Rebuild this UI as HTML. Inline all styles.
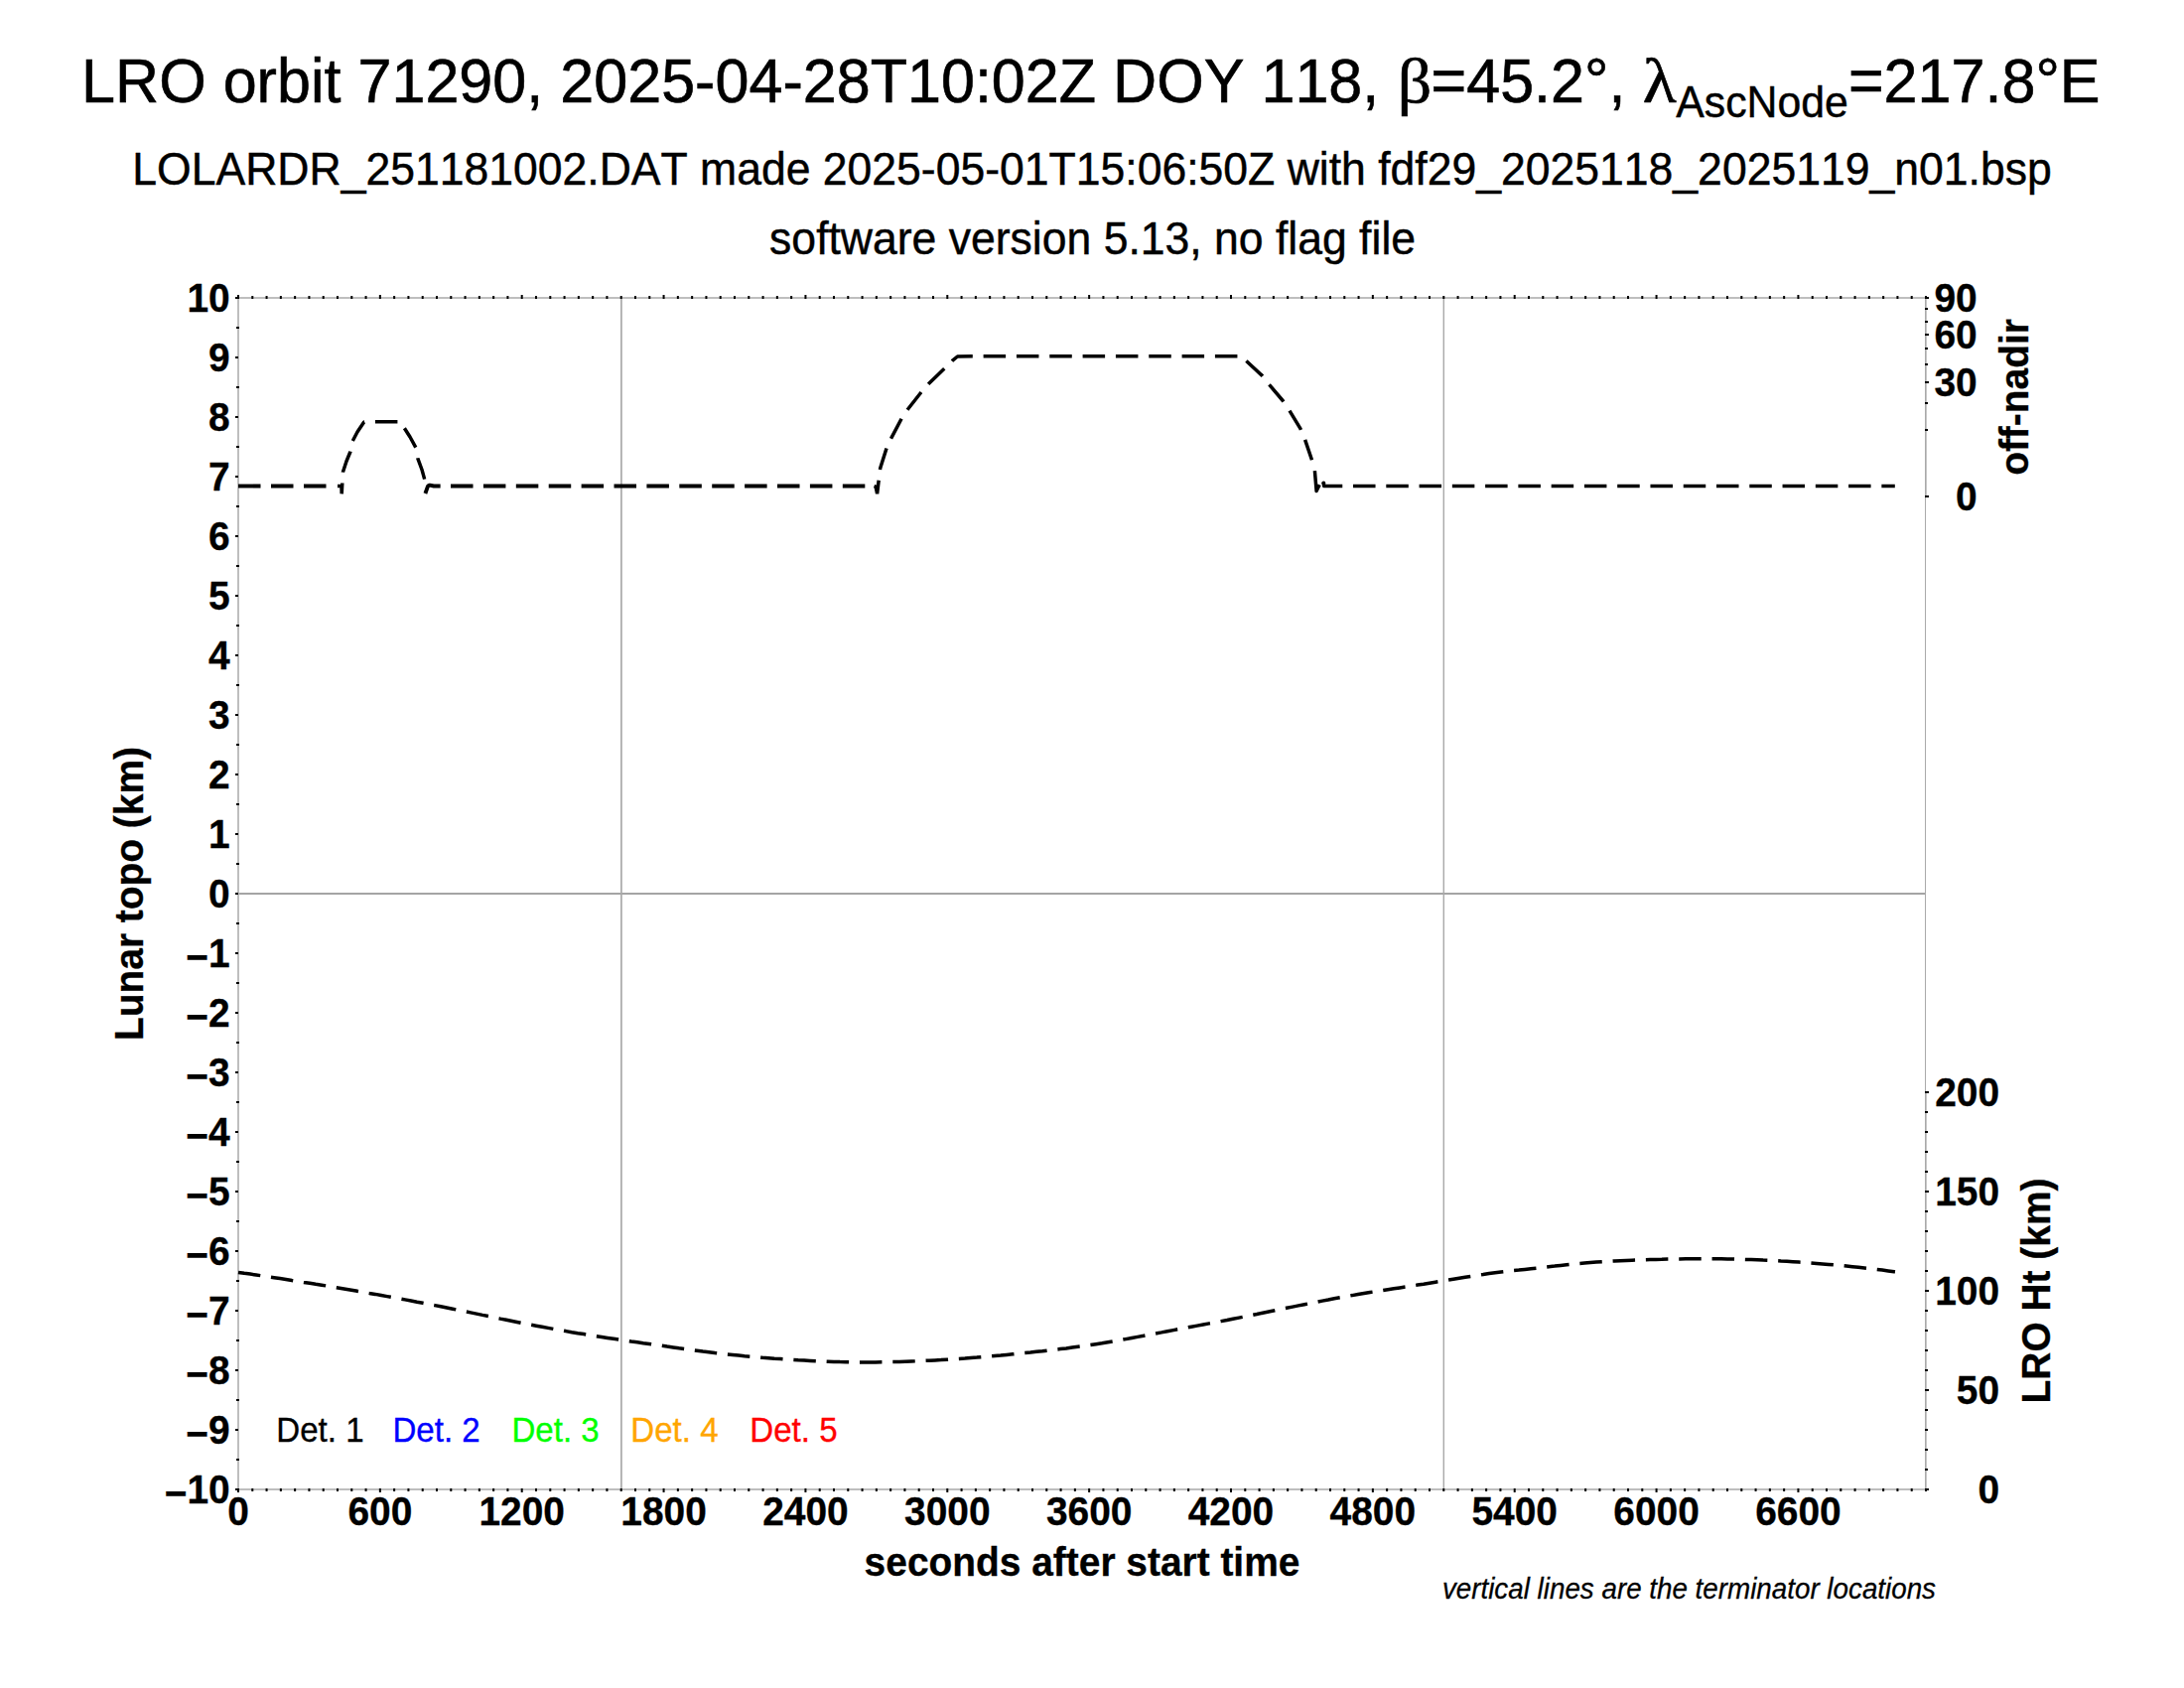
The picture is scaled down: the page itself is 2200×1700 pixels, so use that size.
<!DOCTYPE html>
<html lang="en">
<head>
<meta charset="utf-8">
<title>LRO orbit 71290</title>
<style>
html,body{margin:0;padding:0;background:#fff;}
body{width:2200px;height:1700px;overflow:hidden;}
svg{display:block;}
text{white-space:pre;font-kerning:none;font-variant-ligatures:none;}
</style>
</head>
<body>
<svg width="2200" height="1700" viewBox="0 0 2200 1700">
<rect width="2200" height="1700" fill="#fff"/>
<rect x="240" y="899" width="1700" height="2" fill="#a4a4a4" shape-rendering="crispEdges"/>
<line x1="625.9" y1="300" x2="625.9" y2="1500" stroke="#a9a9a9" stroke-width="1.7"/>
<line x1="1454.3" y1="300" x2="1454.3" y2="1500" stroke="#a9a9a9" stroke-width="1.4"/>
<g fill="#bebebe" shape-rendering="crispEdges">
<rect x="239" y="299" width="2" height="1202"/>
<rect x="239" y="299" width="1702" height="2"/>
<rect x="239" y="1499" width="1702" height="2"/>
<rect x="1939" y="299" width="2" height="202" fill="#c6c6c6"/>
<rect x="1939" y="1099" width="2" height="402" fill="#c6c6c6"/>
<rect x="1939" y="299" width="1" height="1202" fill="#aaaaaa"/>
</g>
<g fill="#000" shape-rendering="crispEdges">
<g shape-rendering="auto">
<rect x="239.00" y="297" width="2" height="4"/>
<rect x="239.00" y="1499" width="2" height="4"/>
<rect x="253.29" y="298" width="2" height="3"/>
<rect x="253.29" y="1499" width="2" height="3"/>
<rect x="267.57" y="298" width="2" height="3"/>
<rect x="267.57" y="1499" width="2" height="3"/>
<rect x="281.86" y="298" width="2" height="3"/>
<rect x="281.86" y="1499" width="2" height="3"/>
<rect x="296.14" y="298" width="2" height="3"/>
<rect x="296.14" y="1499" width="2" height="3"/>
<rect x="310.43" y="298" width="2" height="3"/>
<rect x="310.43" y="1499" width="2" height="3"/>
<rect x="324.71" y="298" width="2" height="3"/>
<rect x="324.71" y="1499" width="2" height="3"/>
<rect x="339.00" y="298" width="2" height="3"/>
<rect x="339.00" y="1499" width="2" height="3"/>
<rect x="353.29" y="298" width="2" height="3"/>
<rect x="353.29" y="1499" width="2" height="3"/>
<rect x="367.57" y="298" width="2" height="3"/>
<rect x="367.57" y="1499" width="2" height="3"/>
<rect x="381.86" y="297" width="2" height="4"/>
<rect x="381.86" y="1499" width="2" height="4"/>
<rect x="396.14" y="298" width="2" height="3"/>
<rect x="396.14" y="1499" width="2" height="3"/>
<rect x="410.43" y="298" width="2" height="3"/>
<rect x="410.43" y="1499" width="2" height="3"/>
<rect x="424.71" y="298" width="2" height="3"/>
<rect x="424.71" y="1499" width="2" height="3"/>
<rect x="439.00" y="298" width="2" height="3"/>
<rect x="439.00" y="1499" width="2" height="3"/>
<rect x="453.29" y="298" width="2" height="3"/>
<rect x="453.29" y="1499" width="2" height="3"/>
<rect x="467.57" y="298" width="2" height="3"/>
<rect x="467.57" y="1499" width="2" height="3"/>
<rect x="481.86" y="298" width="2" height="3"/>
<rect x="481.86" y="1499" width="2" height="3"/>
<rect x="496.14" y="298" width="2" height="3"/>
<rect x="496.14" y="1499" width="2" height="3"/>
<rect x="510.43" y="298" width="2" height="3"/>
<rect x="510.43" y="1499" width="2" height="3"/>
<rect x="524.71" y="297" width="2" height="4"/>
<rect x="524.71" y="1499" width="2" height="4"/>
<rect x="539.00" y="298" width="2" height="3"/>
<rect x="539.00" y="1499" width="2" height="3"/>
<rect x="553.29" y="298" width="2" height="3"/>
<rect x="553.29" y="1499" width="2" height="3"/>
<rect x="567.57" y="298" width="2" height="3"/>
<rect x="567.57" y="1499" width="2" height="3"/>
<rect x="581.86" y="298" width="2" height="3"/>
<rect x="581.86" y="1499" width="2" height="3"/>
<rect x="596.14" y="298" width="2" height="3"/>
<rect x="596.14" y="1499" width="2" height="3"/>
<rect x="610.43" y="298" width="2" height="3"/>
<rect x="610.43" y="1499" width="2" height="3"/>
<rect x="624.71" y="298" width="2" height="3"/>
<rect x="624.71" y="1499" width="2" height="3"/>
<rect x="639.00" y="298" width="2" height="3"/>
<rect x="639.00" y="1499" width="2" height="3"/>
<rect x="653.29" y="298" width="2" height="3"/>
<rect x="653.29" y="1499" width="2" height="3"/>
<rect x="667.57" y="297" width="2" height="4"/>
<rect x="667.57" y="1499" width="2" height="4"/>
<rect x="681.86" y="298" width="2" height="3"/>
<rect x="681.86" y="1499" width="2" height="3"/>
<rect x="696.14" y="298" width="2" height="3"/>
<rect x="696.14" y="1499" width="2" height="3"/>
<rect x="710.43" y="298" width="2" height="3"/>
<rect x="710.43" y="1499" width="2" height="3"/>
<rect x="724.71" y="298" width="2" height="3"/>
<rect x="724.71" y="1499" width="2" height="3"/>
<rect x="739.00" y="298" width="2" height="3"/>
<rect x="739.00" y="1499" width="2" height="3"/>
<rect x="753.29" y="298" width="2" height="3"/>
<rect x="753.29" y="1499" width="2" height="3"/>
<rect x="767.57" y="298" width="2" height="3"/>
<rect x="767.57" y="1499" width="2" height="3"/>
<rect x="781.86" y="298" width="2" height="3"/>
<rect x="781.86" y="1499" width="2" height="3"/>
<rect x="796.14" y="298" width="2" height="3"/>
<rect x="796.14" y="1499" width="2" height="3"/>
<rect x="810.43" y="297" width="2" height="4"/>
<rect x="810.43" y="1499" width="2" height="4"/>
<rect x="824.71" y="298" width="2" height="3"/>
<rect x="824.71" y="1499" width="2" height="3"/>
<rect x="839.00" y="298" width="2" height="3"/>
<rect x="839.00" y="1499" width="2" height="3"/>
<rect x="853.29" y="298" width="2" height="3"/>
<rect x="853.29" y="1499" width="2" height="3"/>
<rect x="867.57" y="298" width="2" height="3"/>
<rect x="867.57" y="1499" width="2" height="3"/>
<rect x="881.86" y="298" width="2" height="3"/>
<rect x="881.86" y="1499" width="2" height="3"/>
<rect x="896.14" y="298" width="2" height="3"/>
<rect x="896.14" y="1499" width="2" height="3"/>
<rect x="910.43" y="298" width="2" height="3"/>
<rect x="910.43" y="1499" width="2" height="3"/>
<rect x="924.71" y="298" width="2" height="3"/>
<rect x="924.71" y="1499" width="2" height="3"/>
<rect x="939.00" y="298" width="2" height="3"/>
<rect x="939.00" y="1499" width="2" height="3"/>
<rect x="953.29" y="297" width="2" height="4"/>
<rect x="953.29" y="1499" width="2" height="4"/>
<rect x="967.57" y="298" width="2" height="3"/>
<rect x="967.57" y="1499" width="2" height="3"/>
<rect x="981.86" y="298" width="2" height="3"/>
<rect x="981.86" y="1499" width="2" height="3"/>
<rect x="996.14" y="298" width="2" height="3"/>
<rect x="996.14" y="1499" width="2" height="3"/>
<rect x="1010.43" y="298" width="2" height="3"/>
<rect x="1010.43" y="1499" width="2" height="3"/>
<rect x="1024.71" y="298" width="2" height="3"/>
<rect x="1024.71" y="1499" width="2" height="3"/>
<rect x="1039.00" y="298" width="2" height="3"/>
<rect x="1039.00" y="1499" width="2" height="3"/>
<rect x="1053.29" y="298" width="2" height="3"/>
<rect x="1053.29" y="1499" width="2" height="3"/>
<rect x="1067.57" y="298" width="2" height="3"/>
<rect x="1067.57" y="1499" width="2" height="3"/>
<rect x="1081.86" y="298" width="2" height="3"/>
<rect x="1081.86" y="1499" width="2" height="3"/>
<rect x="1096.14" y="297" width="2" height="4"/>
<rect x="1096.14" y="1499" width="2" height="4"/>
<rect x="1110.43" y="298" width="2" height="3"/>
<rect x="1110.43" y="1499" width="2" height="3"/>
<rect x="1124.71" y="298" width="2" height="3"/>
<rect x="1124.71" y="1499" width="2" height="3"/>
<rect x="1139.00" y="298" width="2" height="3"/>
<rect x="1139.00" y="1499" width="2" height="3"/>
<rect x="1153.29" y="298" width="2" height="3"/>
<rect x="1153.29" y="1499" width="2" height="3"/>
<rect x="1167.57" y="298" width="2" height="3"/>
<rect x="1167.57" y="1499" width="2" height="3"/>
<rect x="1181.86" y="298" width="2" height="3"/>
<rect x="1181.86" y="1499" width="2" height="3"/>
<rect x="1196.14" y="298" width="2" height="3"/>
<rect x="1196.14" y="1499" width="2" height="3"/>
<rect x="1210.43" y="298" width="2" height="3"/>
<rect x="1210.43" y="1499" width="2" height="3"/>
<rect x="1224.71" y="298" width="2" height="3"/>
<rect x="1224.71" y="1499" width="2" height="3"/>
<rect x="1239.00" y="297" width="2" height="4"/>
<rect x="1239.00" y="1499" width="2" height="4"/>
<rect x="1253.29" y="298" width="2" height="3"/>
<rect x="1253.29" y="1499" width="2" height="3"/>
<rect x="1267.57" y="298" width="2" height="3"/>
<rect x="1267.57" y="1499" width="2" height="3"/>
<rect x="1281.86" y="298" width="2" height="3"/>
<rect x="1281.86" y="1499" width="2" height="3"/>
<rect x="1296.14" y="298" width="2" height="3"/>
<rect x="1296.14" y="1499" width="2" height="3"/>
<rect x="1310.43" y="298" width="2" height="3"/>
<rect x="1310.43" y="1499" width="2" height="3"/>
<rect x="1324.71" y="298" width="2" height="3"/>
<rect x="1324.71" y="1499" width="2" height="3"/>
<rect x="1339.00" y="298" width="2" height="3"/>
<rect x="1339.00" y="1499" width="2" height="3"/>
<rect x="1353.29" y="298" width="2" height="3"/>
<rect x="1353.29" y="1499" width="2" height="3"/>
<rect x="1367.57" y="298" width="2" height="3"/>
<rect x="1367.57" y="1499" width="2" height="3"/>
<rect x="1381.86" y="297" width="2" height="4"/>
<rect x="1381.86" y="1499" width="2" height="4"/>
<rect x="1396.14" y="298" width="2" height="3"/>
<rect x="1396.14" y="1499" width="2" height="3"/>
<rect x="1410.43" y="298" width="2" height="3"/>
<rect x="1410.43" y="1499" width="2" height="3"/>
<rect x="1424.71" y="298" width="2" height="3"/>
<rect x="1424.71" y="1499" width="2" height="3"/>
<rect x="1439.00" y="298" width="2" height="3"/>
<rect x="1439.00" y="1499" width="2" height="3"/>
<rect x="1453.29" y="298" width="2" height="3"/>
<rect x="1453.29" y="1499" width="2" height="3"/>
<rect x="1467.57" y="298" width="2" height="3"/>
<rect x="1467.57" y="1499" width="2" height="3"/>
<rect x="1481.86" y="298" width="2" height="3"/>
<rect x="1481.86" y="1499" width="2" height="3"/>
<rect x="1496.14" y="298" width="2" height="3"/>
<rect x="1496.14" y="1499" width="2" height="3"/>
<rect x="1510.43" y="298" width="2" height="3"/>
<rect x="1510.43" y="1499" width="2" height="3"/>
<rect x="1524.71" y="297" width="2" height="4"/>
<rect x="1524.71" y="1499" width="2" height="4"/>
<rect x="1539.00" y="298" width="2" height="3"/>
<rect x="1539.00" y="1499" width="2" height="3"/>
<rect x="1553.29" y="298" width="2" height="3"/>
<rect x="1553.29" y="1499" width="2" height="3"/>
<rect x="1567.57" y="298" width="2" height="3"/>
<rect x="1567.57" y="1499" width="2" height="3"/>
<rect x="1581.86" y="298" width="2" height="3"/>
<rect x="1581.86" y="1499" width="2" height="3"/>
<rect x="1596.14" y="298" width="2" height="3"/>
<rect x="1596.14" y="1499" width="2" height="3"/>
<rect x="1610.43" y="298" width="2" height="3"/>
<rect x="1610.43" y="1499" width="2" height="3"/>
<rect x="1624.71" y="298" width="2" height="3"/>
<rect x="1624.71" y="1499" width="2" height="3"/>
<rect x="1639.00" y="298" width="2" height="3"/>
<rect x="1639.00" y="1499" width="2" height="3"/>
<rect x="1653.29" y="298" width="2" height="3"/>
<rect x="1653.29" y="1499" width="2" height="3"/>
<rect x="1667.57" y="297" width="2" height="4"/>
<rect x="1667.57" y="1499" width="2" height="4"/>
<rect x="1681.86" y="298" width="2" height="3"/>
<rect x="1681.86" y="1499" width="2" height="3"/>
<rect x="1696.14" y="298" width="2" height="3"/>
<rect x="1696.14" y="1499" width="2" height="3"/>
<rect x="1710.43" y="298" width="2" height="3"/>
<rect x="1710.43" y="1499" width="2" height="3"/>
<rect x="1724.71" y="298" width="2" height="3"/>
<rect x="1724.71" y="1499" width="2" height="3"/>
<rect x="1739.00" y="298" width="2" height="3"/>
<rect x="1739.00" y="1499" width="2" height="3"/>
<rect x="1753.29" y="298" width="2" height="3"/>
<rect x="1753.29" y="1499" width="2" height="3"/>
<rect x="1767.57" y="298" width="2" height="3"/>
<rect x="1767.57" y="1499" width="2" height="3"/>
<rect x="1781.86" y="298" width="2" height="3"/>
<rect x="1781.86" y="1499" width="2" height="3"/>
<rect x="1796.14" y="298" width="2" height="3"/>
<rect x="1796.14" y="1499" width="2" height="3"/>
<rect x="1810.43" y="297" width="2" height="4"/>
<rect x="1810.43" y="1499" width="2" height="4"/>
<rect x="1824.71" y="298" width="2" height="3"/>
<rect x="1824.71" y="1499" width="2" height="3"/>
<rect x="1839.00" y="298" width="2" height="3"/>
<rect x="1839.00" y="1499" width="2" height="3"/>
<rect x="1853.29" y="298" width="2" height="3"/>
<rect x="1853.29" y="1499" width="2" height="3"/>
<rect x="1867.57" y="298" width="2" height="3"/>
<rect x="1867.57" y="1499" width="2" height="3"/>
<rect x="1881.86" y="298" width="2" height="3"/>
<rect x="1881.86" y="1499" width="2" height="3"/>
<rect x="1896.14" y="298" width="2" height="3"/>
<rect x="1896.14" y="1499" width="2" height="3"/>
<rect x="1910.43" y="298" width="2" height="3"/>
<rect x="1910.43" y="1499" width="2" height="3"/>
<rect x="1924.71" y="298" width="2" height="3"/>
<rect x="1924.71" y="1499" width="2" height="3"/>
<rect x="1939.00" y="298" width="2" height="3"/>
<rect x="1939.00" y="1499" width="2" height="3"/>
</g>
<rect x="237" y="1499" width="3" height="2"/>
<rect x="238" y="1469" width="3" height="2"/>
<rect x="237" y="1439" width="3" height="2"/>
<rect x="238" y="1409" width="3" height="2"/>
<rect x="237" y="1379" width="3" height="2"/>
<rect x="238" y="1349" width="3" height="2"/>
<rect x="237" y="1319" width="3" height="2"/>
<rect x="238" y="1289" width="3" height="2"/>
<rect x="237" y="1259" width="3" height="2"/>
<rect x="238" y="1229" width="3" height="2"/>
<rect x="237" y="1199" width="3" height="2"/>
<rect x="238" y="1169" width="3" height="2"/>
<rect x="237" y="1139" width="3" height="2"/>
<rect x="238" y="1109" width="3" height="2"/>
<rect x="237" y="1079" width="3" height="2"/>
<rect x="238" y="1049" width="3" height="2"/>
<rect x="237" y="1019" width="3" height="2"/>
<rect x="238" y="989" width="3" height="2"/>
<rect x="237" y="959" width="3" height="2"/>
<rect x="238" y="929" width="3" height="2"/>
<rect x="237" y="899" width="3" height="2"/>
<rect x="238" y="869" width="3" height="2"/>
<rect x="237" y="839" width="3" height="2"/>
<rect x="238" y="809" width="3" height="2"/>
<rect x="237" y="779" width="3" height="2"/>
<rect x="238" y="749" width="3" height="2"/>
<rect x="237" y="719" width="3" height="2"/>
<rect x="238" y="689" width="3" height="2"/>
<rect x="237" y="659" width="3" height="2"/>
<rect x="238" y="629" width="3" height="2"/>
<rect x="237" y="599" width="3" height="2"/>
<rect x="238" y="569" width="3" height="2"/>
<rect x="237" y="539" width="3" height="2"/>
<rect x="238" y="509" width="3" height="2"/>
<rect x="237" y="479" width="3" height="2"/>
<rect x="238" y="449" width="3" height="2"/>
<rect x="237" y="419" width="3" height="2"/>
<rect x="238" y="389" width="3" height="2"/>
<rect x="237" y="359" width="3" height="2"/>
<rect x="238" y="329" width="3" height="2"/>
<rect x="237" y="299" width="3" height="2"/>
<rect x="1939" y="499" width="4" height="2"/>
<rect x="1939" y="432" width="3" height="2"/>
<rect x="1939" y="405" width="3" height="2"/>
<rect x="1939" y="384" width="4" height="2"/>
<rect x="1939" y="366" width="3" height="2"/>
<rect x="1939" y="350" width="3" height="2"/>
<rect x="1939" y="336" width="4" height="2"/>
<rect x="1939" y="323" width="3" height="2"/>
<rect x="1939" y="310" width="3" height="2"/>
<rect x="1939" y="299" width="4" height="2"/>
<rect x="1939" y="1499" width="4" height="2"/>
<rect x="1939" y="1479" width="3" height="2"/>
<rect x="1939" y="1459" width="3" height="2"/>
<rect x="1939" y="1439" width="3" height="2"/>
<rect x="1939" y="1419" width="3" height="2"/>
<rect x="1939" y="1399" width="4" height="2"/>
<rect x="1939" y="1379" width="3" height="2"/>
<rect x="1939" y="1359" width="3" height="2"/>
<rect x="1939" y="1339" width="3" height="2"/>
<rect x="1939" y="1319" width="3" height="2"/>
<rect x="1939" y="1299" width="4" height="2"/>
<rect x="1939" y="1279" width="3" height="2"/>
<rect x="1939" y="1259" width="3" height="2"/>
<rect x="1939" y="1239" width="3" height="2"/>
<rect x="1939" y="1219" width="3" height="2"/>
<rect x="1939" y="1199" width="4" height="2"/>
<rect x="1939" y="1179" width="3" height="2"/>
<rect x="1939" y="1159" width="3" height="2"/>
<rect x="1939" y="1139" width="3" height="2"/>
<rect x="1939" y="1119" width="3" height="2"/>
<rect x="1939" y="1099" width="4" height="2"/>
</g>
<g fill="none" stroke="#000" stroke-width="3.5" stroke-linejoin="bevel">
<path d="M240,489.5 L336,489.5" stroke-dasharray="22.5 10.5" stroke-width="3.9"/>
<path d="M340.0,489.5 L344.0,489.6 L344.2,497.3 L345.4,475.5 L349.0,464.5 L352.9,455.0 L355.3,444.0 L360.0,435.0 L366.7,425.1 L369.0,424.8 L404.0,424.8 L407.2,430.9 L413.0,440.0 L418.9,450.8 L420.9,461.8 L425.0,473.0 L427.8,483.1 L428.2,487.0" stroke-dasharray="22.5 10.83"/>
<path d="M428.4,497.0 L431.0,489.6 L433.0,488.6 L437.0,489.5 L872.9,489.5" stroke-dasharray="22.5 10.4" stroke-dashoffset="1.7" stroke-width="3.9"/>
<path d="M880.5,489.6 L882.2,490.2 L883.6,497.2 L885.3,482.7 L886.7,471.5 L893.2,450.9 L898.1,440.6 L908.3,421.3 L914.6,412.0 L928.3,394.6 L935.7,386.3 L951.3,371.2 L959.2,363.4 L964.5,359.0 L979.4,358.7 L1250.3,358.7 L1255.4,363.4 L1271.2,378.1 L1278.0,386.7 L1292.2,403.5 L1298.7,413.1 L1309.9,431.6 L1314.5,442.6 L1321.5,463.2" stroke-dasharray="22.5 10.83"/>
<path d="M1324.4,474.1 L1326.1,494.6 L1329.2,488.3" stroke-linejoin="round"/>
<path d="M1333.2,485.6 L1333.7,489.5 L1908.8,489.5" stroke-dasharray="22.5 10.77" stroke-linejoin="round" stroke-linecap="butt"/>
<circle cx="1333.3" cy="486.4" r="1.9" fill="#000" stroke="none"/>
<path d="M240.0,1281.4 L246.0,1282.3 L252.0,1283.1 L258.0,1284.0 L264.0,1284.9 L270.0,1285.8 L276.0,1286.7 L282.0,1287.6 L288.0,1288.5 L294.0,1289.5 L300.0,1290.4 L306.0,1291.4 L312.0,1292.3 L318.0,1293.3 L324.0,1294.2 L330.0,1295.2 L336.0,1296.2 L342.0,1297.2 L348.0,1298.2 L354.0,1299.2 L360.0,1300.3 L366.0,1301.3 L372.0,1302.4 L378.0,1303.4 L384.0,1304.5 L390.0,1305.6 L396.0,1306.7 L402.0,1307.8 L408.0,1308.9 L414.0,1310.0 L420.0,1311.2 L426.0,1312.3 L432.0,1313.5 L438.0,1314.6 L444.0,1315.8 L450.0,1317.0 L456.0,1318.2 L462.0,1319.4 L468.0,1320.7 L474.0,1321.9 L480.0,1323.1 L486.0,1324.4 L492.0,1325.6 L498.0,1326.8 L504.0,1328.1 L510.0,1329.3 L516.0,1330.5 L522.0,1331.7 L528.0,1332.9 L534.0,1334.1 L540.0,1335.2 L546.0,1336.3 L552.0,1337.4 L558.0,1338.5 L564.0,1339.6 L570.0,1340.6 L576.0,1341.7 L582.0,1342.7 L588.0,1343.6 L594.0,1344.6 L600.0,1345.6 L606.0,1346.5 L612.0,1347.4 L618.0,1348.3 L624.0,1349.2 L630.0,1350.1 L636.0,1351.0 L642.0,1351.8 L648.0,1352.7 L654.0,1353.5 L660.0,1354.4 L666.0,1355.2 L672.0,1356.1 L678.0,1356.9 L684.0,1357.8 L690.0,1358.6 L696.0,1359.5 L702.0,1360.3 L708.0,1361.1 L714.0,1361.8 L720.0,1362.6 L726.0,1363.2 L732.0,1363.9 L738.0,1364.5 L744.0,1365.1 L750.0,1365.7 L756.0,1366.2 L762.0,1366.8 L768.0,1367.3 L774.0,1367.7 L780.0,1368.2 L786.0,1368.6 L792.0,1369.0 L798.0,1369.4 L804.0,1369.8 L810.0,1370.1 L816.0,1370.4 L822.0,1370.7 L828.0,1371.0 L834.0,1371.2 L840.0,1371.4 L846.0,1371.6 L852.0,1371.7 L858.0,1371.8 L864.0,1371.9 L870.0,1371.9 L876.0,1371.9 L882.0,1371.9 L888.0,1371.8 L894.0,1371.7 L900.0,1371.6 L906.0,1371.4 L912.0,1371.2 L918.0,1371.0 L924.0,1370.8 L930.0,1370.5 L936.0,1370.2 L942.0,1369.9 L948.0,1369.6 L954.0,1369.2 L960.0,1368.8 L966.0,1368.4 L972.0,1368.0 L978.0,1367.5 L984.0,1367.1 L990.0,1366.6 L996.0,1366.1 L1002.0,1365.5 L1008.0,1365.0 L1014.0,1364.4 L1020.0,1363.8 L1026.0,1363.2 L1032.0,1362.6 L1038.0,1362.0 L1044.0,1361.3 L1050.0,1360.7 L1056.0,1360.0 L1062.0,1359.3 L1068.0,1358.6 L1074.0,1357.9 L1080.0,1357.1 L1086.0,1356.3 L1092.0,1355.5 L1098.0,1354.6 L1104.0,1353.7 L1110.0,1352.8 L1116.0,1351.8 L1122.0,1350.8 L1128.0,1349.7 L1134.0,1348.6 L1140.0,1347.5 L1146.0,1346.4 L1152.0,1345.3 L1158.0,1344.1 L1164.0,1343.0 L1170.0,1341.9 L1176.0,1340.7 L1182.0,1339.6 L1188.0,1338.5 L1194.0,1337.4 L1200.0,1336.2 L1206.0,1335.1 L1212.0,1334.0 L1218.0,1332.9 L1224.0,1331.8 L1230.0,1330.6 L1236.0,1329.5 L1242.0,1328.3 L1248.0,1327.1 L1254.0,1325.9 L1260.0,1324.7 L1266.0,1323.5 L1272.0,1322.2 L1278.0,1321.0 L1284.0,1319.8 L1290.0,1318.5 L1296.0,1317.3 L1302.0,1316.1 L1308.0,1314.9 L1314.0,1313.7 L1320.0,1312.5 L1326.0,1311.3 L1332.0,1310.1 L1338.0,1309.0 L1344.0,1307.8 L1350.0,1306.7 L1356.0,1305.6 L1362.0,1304.6 L1368.0,1303.5 L1374.0,1302.5 L1380.0,1301.5 L1386.0,1300.6 L1392.0,1299.6 L1398.0,1298.7 L1404.0,1297.8 L1410.0,1296.9 L1416.0,1296.0 L1422.0,1295.0 L1428.0,1294.1 L1434.0,1293.2 L1440.0,1292.2 L1446.0,1291.2 L1452.0,1290.2 L1458.0,1289.2 L1464.0,1288.2 L1470.0,1287.2 L1476.0,1286.2 L1482.0,1285.3 L1488.0,1284.3 L1494.0,1283.5 L1500.0,1282.6 L1506.0,1281.8 L1512.0,1281.1 L1518.0,1280.4 L1524.0,1279.7 L1530.0,1279.1 L1536.0,1278.4 L1542.0,1277.7 L1548.0,1277.1 L1554.0,1276.4 L1560.0,1275.7 L1566.0,1275.1 L1572.0,1274.4 L1578.0,1273.8 L1584.0,1273.2 L1590.0,1272.6 L1596.0,1272.1 L1602.0,1271.6 L1608.0,1271.1 L1614.0,1270.7 L1620.0,1270.3 L1626.0,1270.0 L1632.0,1269.7 L1638.0,1269.4 L1644.0,1269.2 L1650.0,1269.0 L1656.0,1268.8 L1662.0,1268.6 L1668.0,1268.4 L1674.0,1268.3 L1680.0,1268.1 L1686.0,1268.0 L1692.0,1267.9 L1698.0,1267.8 L1704.0,1267.8 L1710.0,1267.7 L1716.0,1267.7 L1722.0,1267.7 L1728.0,1267.7 L1734.0,1267.8 L1740.0,1267.9 L1746.0,1268.0 L1752.0,1268.2 L1758.0,1268.4 L1764.0,1268.6 L1770.0,1268.8 L1776.0,1269.1 L1782.0,1269.3 L1788.0,1269.6 L1794.0,1270.0 L1800.0,1270.3 L1806.0,1270.7 L1812.0,1271.1 L1818.0,1271.5 L1824.0,1271.9 L1830.0,1272.4 L1836.0,1272.9 L1842.0,1273.4 L1848.0,1273.9 L1854.0,1274.5 L1860.0,1275.1 L1866.0,1275.7 L1872.0,1276.3 L1878.0,1277.0 L1884.0,1277.7 L1890.0,1278.4 L1896.0,1279.1 L1902.0,1279.9 L1908.0,1280.7 L1909.0,1280.8" stroke-dasharray="22.5 10.83"/>
</g>
<text transform="translate(82.10,103.30) scale(1.0,1.035)" font-family="'Liberation Sans', sans-serif" font-size="61.1" text-anchor="start" fill="#000" stroke="#000" stroke-width="0.6">LRO orbit 71290, 2025-04-28T10:02Z DOY 118, </text>
<text transform="translate(1407.70,103.30) scale(1.11,1.05)" font-family="'Liberation Serif', 'DejaVu Serif', serif" font-size="61.1" text-anchor="start" fill="#000" stroke="#000" stroke-width="0.6">β</text>
<text transform="translate(1441.50,103.30) scale(1.0,1.035)" font-family="'Liberation Sans', sans-serif" font-size="61.1" text-anchor="start" fill="#000" stroke="#000" stroke-width="0.6">=45.2°, </text>
<text transform="translate(1654.75,103.30) scale(1.146,1.04)" font-family="'Liberation Serif', 'DejaVu Serif', serif" font-size="61.1" text-anchor="start" fill="#000" stroke="#000" stroke-width="0.6">λ</text>
<text transform="translate(1688.30,118.30) scale(1.0,1.035)" font-family="'Liberation Sans', sans-serif" font-size="42.77" text-anchor="start" fill="#000" stroke="#000" stroke-width="0.42">AscNode</text>
<text transform="translate(1861.90,103.30) scale(1.0,1.035)" font-family="'Liberation Sans', sans-serif" font-size="61.1" text-anchor="start" fill="#000" stroke="#000" stroke-width="0.6">=217.8°E</text>
<text transform="translate(133.30,186.00) scale(1.0,1.035)" font-family="'Liberation Sans', sans-serif" font-size="44.54" text-anchor="start" fill="#000" stroke="#000" stroke-width="0.44">LOLARDR_251181002.DAT made 2025-05-01T15:06:50Z with fdf29_2025118_2025119_n01.bsp</text>
<text transform="translate(775.10,256.40) scale(1.0,1.035)" font-family="'Liberation Sans', sans-serif" font-size="44.54" text-anchor="start" fill="#000" stroke="#000" stroke-width="0.44">software version 5.13, no flag file</text>
<text transform="translate(231.70,1514.40) scale(1.0,1.05)" font-family="'Liberation Sans', sans-serif" font-size="38.9" text-anchor="end" fill="#000" font-weight="bold" stroke="#000" stroke-width="0.3"><tspan dy="3.6">−</tspan><tspan dy="-3.6">10</tspan></text>
<text transform="translate(231.70,1454.40) scale(1.0,1.05)" font-family="'Liberation Sans', sans-serif" font-size="38.9" text-anchor="end" fill="#000" font-weight="bold" stroke="#000" stroke-width="0.3"><tspan dy="3.6">−</tspan><tspan dy="-3.6">9</tspan></text>
<text transform="translate(231.70,1394.40) scale(1.0,1.05)" font-family="'Liberation Sans', sans-serif" font-size="38.9" text-anchor="end" fill="#000" font-weight="bold" stroke="#000" stroke-width="0.3"><tspan dy="3.6">−</tspan><tspan dy="-3.6">8</tspan></text>
<text transform="translate(231.70,1334.40) scale(1.0,1.05)" font-family="'Liberation Sans', sans-serif" font-size="38.9" text-anchor="end" fill="#000" font-weight="bold" stroke="#000" stroke-width="0.3"><tspan dy="3.6">−</tspan><tspan dy="-3.6">7</tspan></text>
<text transform="translate(231.70,1274.40) scale(1.0,1.05)" font-family="'Liberation Sans', sans-serif" font-size="38.9" text-anchor="end" fill="#000" font-weight="bold" stroke="#000" stroke-width="0.3"><tspan dy="3.6">−</tspan><tspan dy="-3.6">6</tspan></text>
<text transform="translate(231.70,1214.40) scale(1.0,1.05)" font-family="'Liberation Sans', sans-serif" font-size="38.9" text-anchor="end" fill="#000" font-weight="bold" stroke="#000" stroke-width="0.3"><tspan dy="3.6">−</tspan><tspan dy="-3.6">5</tspan></text>
<text transform="translate(231.70,1154.40) scale(1.0,1.05)" font-family="'Liberation Sans', sans-serif" font-size="38.9" text-anchor="end" fill="#000" font-weight="bold" stroke="#000" stroke-width="0.3"><tspan dy="3.6">−</tspan><tspan dy="-3.6">4</tspan></text>
<text transform="translate(231.70,1094.40) scale(1.0,1.05)" font-family="'Liberation Sans', sans-serif" font-size="38.9" text-anchor="end" fill="#000" font-weight="bold" stroke="#000" stroke-width="0.3"><tspan dy="3.6">−</tspan><tspan dy="-3.6">3</tspan></text>
<text transform="translate(231.70,1034.40) scale(1.0,1.05)" font-family="'Liberation Sans', sans-serif" font-size="38.9" text-anchor="end" fill="#000" font-weight="bold" stroke="#000" stroke-width="0.3"><tspan dy="3.6">−</tspan><tspan dy="-3.6">2</tspan></text>
<text transform="translate(231.70,974.40) scale(1.0,1.05)" font-family="'Liberation Sans', sans-serif" font-size="38.9" text-anchor="end" fill="#000" font-weight="bold" stroke="#000" stroke-width="0.3"><tspan dy="3.6">−</tspan><tspan dy="-3.6">1</tspan></text>
<text transform="translate(231.70,914.40) scale(1.0,1.05)" font-family="'Liberation Sans', sans-serif" font-size="38.9" text-anchor="end" fill="#000" font-weight="bold" stroke="#000" stroke-width="0.3">0</text>
<text transform="translate(231.70,854.40) scale(1.0,1.05)" font-family="'Liberation Sans', sans-serif" font-size="38.9" text-anchor="end" fill="#000" font-weight="bold" stroke="#000" stroke-width="0.3">1</text>
<text transform="translate(231.70,794.40) scale(1.0,1.05)" font-family="'Liberation Sans', sans-serif" font-size="38.9" text-anchor="end" fill="#000" font-weight="bold" stroke="#000" stroke-width="0.3">2</text>
<text transform="translate(231.70,734.40) scale(1.0,1.05)" font-family="'Liberation Sans', sans-serif" font-size="38.9" text-anchor="end" fill="#000" font-weight="bold" stroke="#000" stroke-width="0.3">3</text>
<text transform="translate(231.70,674.40) scale(1.0,1.05)" font-family="'Liberation Sans', sans-serif" font-size="38.9" text-anchor="end" fill="#000" font-weight="bold" stroke="#000" stroke-width="0.3">4</text>
<text transform="translate(231.70,614.40) scale(1.0,1.05)" font-family="'Liberation Sans', sans-serif" font-size="38.9" text-anchor="end" fill="#000" font-weight="bold" stroke="#000" stroke-width="0.3">5</text>
<text transform="translate(231.70,554.40) scale(1.0,1.05)" font-family="'Liberation Sans', sans-serif" font-size="38.9" text-anchor="end" fill="#000" font-weight="bold" stroke="#000" stroke-width="0.3">6</text>
<text transform="translate(231.70,494.40) scale(1.0,1.05)" font-family="'Liberation Sans', sans-serif" font-size="38.9" text-anchor="end" fill="#000" font-weight="bold" stroke="#000" stroke-width="0.3">7</text>
<text transform="translate(231.70,434.40) scale(1.0,1.05)" font-family="'Liberation Sans', sans-serif" font-size="38.9" text-anchor="end" fill="#000" font-weight="bold" stroke="#000" stroke-width="0.3">8</text>
<text transform="translate(231.70,374.40) scale(1.0,1.05)" font-family="'Liberation Sans', sans-serif" font-size="38.9" text-anchor="end" fill="#000" font-weight="bold" stroke="#000" stroke-width="0.3">9</text>
<text transform="translate(231.70,314.40) scale(1.0,1.05)" font-family="'Liberation Sans', sans-serif" font-size="38.9" text-anchor="end" fill="#000" font-weight="bold" stroke="#000" stroke-width="0.3">10</text>
<text transform="translate(240.00,1536.40) scale(1.0,1.05)" font-family="'Liberation Sans', sans-serif" font-size="38.9" text-anchor="middle" fill="#000" font-weight="bold" stroke="#000" stroke-width="0.3">0</text>
<text transform="translate(382.86,1536.40) scale(1.0,1.05)" font-family="'Liberation Sans', sans-serif" font-size="38.9" text-anchor="middle" fill="#000" font-weight="bold" stroke="#000" stroke-width="0.3">600</text>
<text transform="translate(525.71,1536.40) scale(1.0,1.05)" font-family="'Liberation Sans', sans-serif" font-size="38.9" text-anchor="middle" fill="#000" font-weight="bold" stroke="#000" stroke-width="0.3">1200</text>
<text transform="translate(668.57,1536.40) scale(1.0,1.05)" font-family="'Liberation Sans', sans-serif" font-size="38.9" text-anchor="middle" fill="#000" font-weight="bold" stroke="#000" stroke-width="0.3">1800</text>
<text transform="translate(811.43,1536.40) scale(1.0,1.05)" font-family="'Liberation Sans', sans-serif" font-size="38.9" text-anchor="middle" fill="#000" font-weight="bold" stroke="#000" stroke-width="0.3">2400</text>
<text transform="translate(954.29,1536.40) scale(1.0,1.05)" font-family="'Liberation Sans', sans-serif" font-size="38.9" text-anchor="middle" fill="#000" font-weight="bold" stroke="#000" stroke-width="0.3">3000</text>
<text transform="translate(1097.14,1536.40) scale(1.0,1.05)" font-family="'Liberation Sans', sans-serif" font-size="38.9" text-anchor="middle" fill="#000" font-weight="bold" stroke="#000" stroke-width="0.3">3600</text>
<text transform="translate(1240.00,1536.40) scale(1.0,1.05)" font-family="'Liberation Sans', sans-serif" font-size="38.9" text-anchor="middle" fill="#000" font-weight="bold" stroke="#000" stroke-width="0.3">4200</text>
<text transform="translate(1382.86,1536.40) scale(1.0,1.05)" font-family="'Liberation Sans', sans-serif" font-size="38.9" text-anchor="middle" fill="#000" font-weight="bold" stroke="#000" stroke-width="0.3">4800</text>
<text transform="translate(1525.71,1536.40) scale(1.0,1.05)" font-family="'Liberation Sans', sans-serif" font-size="38.9" text-anchor="middle" fill="#000" font-weight="bold" stroke="#000" stroke-width="0.3">5400</text>
<text transform="translate(1668.57,1536.40) scale(1.0,1.05)" font-family="'Liberation Sans', sans-serif" font-size="38.9" text-anchor="middle" fill="#000" font-weight="bold" stroke="#000" stroke-width="0.3">6000</text>
<text transform="translate(1811.43,1536.40) scale(1.0,1.05)" font-family="'Liberation Sans', sans-serif" font-size="38.9" text-anchor="middle" fill="#000" font-weight="bold" stroke="#000" stroke-width="0.3">6600</text>
<text transform="translate(1991.70,514.40) scale(1.0,1.05)" font-family="'Liberation Sans', sans-serif" font-size="38.9" text-anchor="end" fill="#000" font-weight="bold" stroke="#000" stroke-width="0.3">0</text>
<text transform="translate(1991.70,398.93) scale(1.0,1.05)" font-family="'Liberation Sans', sans-serif" font-size="38.9" text-anchor="end" fill="#000" font-weight="bold" stroke="#000" stroke-width="0.3">30</text>
<text transform="translate(1991.70,351.10) scale(1.0,1.05)" font-family="'Liberation Sans', sans-serif" font-size="38.9" text-anchor="end" fill="#000" font-weight="bold" stroke="#000" stroke-width="0.3">60</text>
<text transform="translate(1991.70,314.40) scale(1.0,1.05)" font-family="'Liberation Sans', sans-serif" font-size="38.9" text-anchor="end" fill="#000" font-weight="bold" stroke="#000" stroke-width="0.3">90</text>
<text transform="translate(2014.10,1514.40) scale(1.0,1.05)" font-family="'Liberation Sans', sans-serif" font-size="38.9" text-anchor="end" fill="#000" font-weight="bold" stroke="#000" stroke-width="0.3">0</text>
<text transform="translate(2014.10,1414.40) scale(1.0,1.05)" font-family="'Liberation Sans', sans-serif" font-size="38.9" text-anchor="end" fill="#000" font-weight="bold" stroke="#000" stroke-width="0.3">50</text>
<text transform="translate(2014.10,1314.40) scale(1.0,1.05)" font-family="'Liberation Sans', sans-serif" font-size="38.9" text-anchor="end" fill="#000" font-weight="bold" stroke="#000" stroke-width="0.3">100</text>
<text transform="translate(2014.10,1214.40) scale(1.0,1.05)" font-family="'Liberation Sans', sans-serif" font-size="38.9" text-anchor="end" fill="#000" font-weight="bold" stroke="#000" stroke-width="0.3">150</text>
<text transform="translate(2014.10,1114.40) scale(1.0,1.05)" font-family="'Liberation Sans', sans-serif" font-size="38.9" text-anchor="end" fill="#000" font-weight="bold" stroke="#000" stroke-width="0.3">200</text>
<text transform="translate(1090.00,1587.30) scale(1.0,1.035)" font-family="'Liberation Sans', sans-serif" font-size="38.9" text-anchor="middle" fill="#000" font-weight="bold" stroke="#000" stroke-width="0.3">seconds after start time</text>
<text transform="translate(144.30,900.00) rotate(-90) scale(1.0,1.035)" font-family="'Liberation Sans', sans-serif" font-size="38.9" text-anchor="middle" fill="#000" font-weight="bold" stroke="#000" stroke-width="0.3">Lunar topo (km)</text>
<text transform="translate(2042.50,400.00) rotate(-90) scale(1.0,1.035)" font-family="'Liberation Sans', sans-serif" font-size="38.9" text-anchor="middle" fill="#000" font-weight="bold" stroke="#000" stroke-width="0.3">off-nadir</text>
<text transform="translate(2065.10,1300.00) rotate(-90) scale(1.0,1.035)" font-family="'Liberation Sans', sans-serif" font-size="38.9" text-anchor="middle" fill="#000" font-weight="bold" stroke="#000" stroke-width="0.3">LRO Ht (km)</text>
<text transform="translate(278.27,1451.60) scale(1.0,1.035)" font-family="'Liberation Sans', sans-serif" font-size="33.1" text-anchor="start" fill="#000000" stroke="#000000" stroke-width="0.32">Det. 1</text>
<text transform="translate(395.47,1451.60) scale(1.0,1.035)" font-family="'Liberation Sans', sans-serif" font-size="33.1" text-anchor="start" fill="#0000ff" stroke="#0000ff" stroke-width="0.32">Det. 2</text>
<text transform="translate(515.47,1451.60) scale(1.0,1.035)" font-family="'Liberation Sans', sans-serif" font-size="33.1" text-anchor="start" fill="#00ff00" stroke="#00ff00" stroke-width="0.32">Det. 3</text>
<text transform="translate(635.27,1451.60) scale(1.0,1.035)" font-family="'Liberation Sans', sans-serif" font-size="33.1" text-anchor="start" fill="#ffa500" stroke="#ffa500" stroke-width="0.32">Det. 4</text>
<text transform="translate(755.27,1451.60) scale(1.0,1.035)" font-family="'Liberation Sans', sans-serif" font-size="33.1" text-anchor="start" fill="#ff0000" stroke="#ff0000" stroke-width="0.32">Det. 5</text>
<text transform="translate(1950.00,1610.20) scale(1.0,1.035)" font-family="'Liberation Sans', sans-serif" font-size="27.78" text-anchor="end" fill="#000" font-style="italic" stroke="#000" stroke-width="0.27">vertical lines are the terminator locations</text>
</svg>
</body>
</html>
